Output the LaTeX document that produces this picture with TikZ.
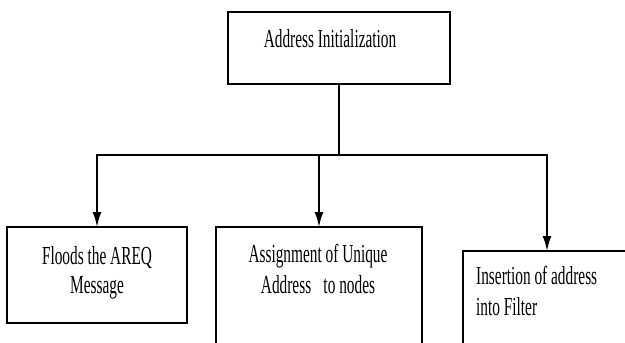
\documentclass[tikz,border=0pt]{standalone}
\usepackage{fontspec}
\setmainfont{Liberation Serif}
\usetikzlibrary{arrows.meta}
\newcommand{\sq}[1]{\scalebox{0.59}[1]{#1}}
\begin{document}
\begin{tikzpicture}[x=1pt,y=-1pt,
  box/.style={draw=black,line width=1.4pt,inner sep=0pt,outer sep=0pt,rectangle},
  conn/.style={draw=black,line width=2pt},
  arr/.style={conn,-{Latex[length=15pt,width=9pt]}},
  txt/.style={inner sep=0pt,anchor=base,font=\fontsize{26}{30}\selectfont,text=black},
  txtl/.style={txt,anchor=base west}]
\useasboundingbox (0,0) rectangle (625,343);
\clip (0,0) rectangle (625,343);
% boxes
\node[box,minimum width=222pt,minimum height=72pt] (top) at (339,48) {};
\node[box,minimum width=180pt,minimum height=96pt] (b1) at (97,275) {};
\node[box,minimum width=206pt,minimum height=153pt] (b2) at (319,303.5) {};
\node[box,minimum width=168pt,minimum height=129pt] (b3) at (547,315.5) {};
% texts
\node[txt] (t0) at (330,47) {\sq{Address Initialization}};
\node[txt] (t1a) at (97,264) {\sq{Floods the AREQ}};
\node[txt] (t1b) at (97,293) {\sq{Message}};
\node[txt] (t2a) at (318,262) {\sq{Assignment of Unique}};
\node[txt] (t2b) at (318,293) {\sq{Address\hspace{0.8em}to nodes}};
\node[txtl] (t3a) at (476,284) {\sq{Insertion of address}};
\node[txtl] (t3b) at (476,315) {\sq{into Filter}};
% connectors
\coordinate (busy) at (0,155);
\draw[conn] (top.south) -- (top.south |- busy) coordinate (bus);
\draw[arr] (bus) -| (b1.north);
\draw[arr] (bus) -| (b2.north);
\draw[arr] (bus) -| (b3.north);
\end{tikzpicture}
\end{document}
